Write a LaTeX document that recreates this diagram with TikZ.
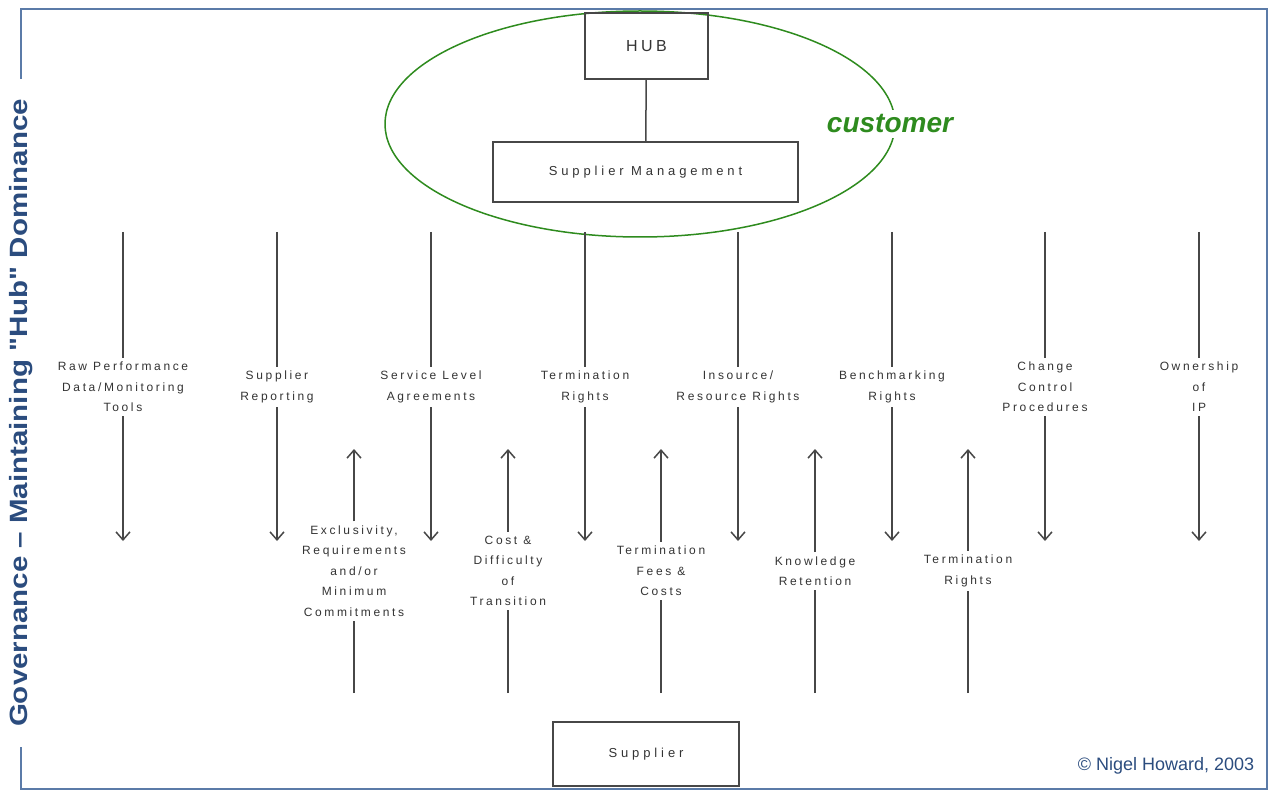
\documentclass[tikz,border=0pt]{standalone}
\usepackage{fontspec}
\setmainfont{Liberation Sans}
\newfontfamily\spaced[LetterSpace=22]{Liberation Sans}
\newfontfamily\widespaced[LetterSpace=30]{Liberation Sans}
\newfontfamily\titlefont[FakeStretch=1.18]{Liberation Sans}
\usepackage{xcolor}
\usetikzlibrary{shapes}
\usetikzlibrary{arrows.meta}
\usetikzlibrary{positioning}
\definecolor{framecol}{HTML}{5B7BA8}
\definecolor{titlecol}{HTML}{2B4C7E}
\definecolor{custgreen}{HTML}{2E8B1E}
\definecolor{inkgray}{HTML}{333333}
\definecolor{linegray}{HTML}{474747}
\tikzset{
	frame/.style={draw=framecol,line width=2.5pt},
	box node/.style={draw=linegray,line width=1.8pt,text=inkgray},
	lab/.style={font=\spaced\fontsize{12}{20.5}\selectfont,align=center,text=inkgray,inner xsep=2pt,inner ysep=4pt},
	flow/.style={draw=linegray,line width=1.5pt}
}

\begin{document}
\begin{tikzpicture}[x=1pt,y=-1pt,>={Straight Barb[length=8pt,width=14pt]}]
	\useasboundingbox (0,0) rectangle (1279,794);
	% frame and side title
	\node [rotate=90,text=titlecol,font=\titlefont\bfseries\fontsize{25}{30}\selectfont,inner xsep=20pt] (gov) at (21,413) {Governance – Maintaining "Hub" Dominance};
	\draw [frame] (gov.east) -- (21,9) -- (1267,9) -- (1267,789) -- (21,789) -- (gov.west);
	% customer side
	\node [ellipse,draw=custgreen,line width=1.5pt,minimum width=510pt,minimum height=226pt] (cust) at (640,124) {};
	\node [box node,minimum width=123pt,minimum height=66pt,font=\spaced\fontsize{16}{18}\selectfont] (hub) at (646.5,46) {HUB};
	\node [box node,minimum width=305pt,minimum height=60pt,font=\widespaced\fontsize{13}{15}\selectfont] (mgmt) at (645.5,172) {Supplier Management};
	\draw [flow] (hub) -- (mgmt);
	\node [fill=white,text=custgreen,font=\bfseries\itshape\fontsize{28}{30}\selectfont,inner xsep=1pt,inner ysep=5pt] (custlab) at (890,124) {customer};
	% supplier side
	\node [box node,minimum width=186pt,minimum height=64pt,font=\widespaced\fontsize{13}{15}\selectfont] (supp) at (646,754) {Supplier};
	% hub controls (downwards)
	\foreach \x/\txt [count=\i] in {123/{Raw Performance\\Data/Monitoring\\Tools},
		277/{Supplier\\Reporting},
		431/{Service Level\\Agreements},
		585/{Termination\\Rights},
		738/{Insource/\\Resource Rights},
		892/{Benchmarking\\Rights},
		1045/{Change\\Control\\Procedures},
		1199/{Ownership\\of\\IP}}{
		\coordinate (dtop\i) at (\x,232);
		\coordinate (dend\i) at (\x,541);
		\node [lab] (dlab\i) at (\x,387) {\txt};
		\draw [flow] (dtop\i) -- (dlab\i);
		\draw [flow,->] (dlab\i) -- (dend\i);
	}
	% supplier leverage (upwards)
	\foreach \x/\txt [count=\i] in {354/{Exclusivity,\\Requirements\\and/or\\Minimum\\Commitments},
		508/{Cost \&\\Difficulty\\of\\Transition},
		661/{Termination\\Fees \&\\Costs},
		815/{Knowledge\\Retention},
		968/{Termination\\Rights}}{
		\coordinate (ubot\i) at (\x,693);
		\coordinate (uend\i) at (\x,449);
		\node [lab] (ulab\i) at (\x,571) {\txt};
		\draw [flow] (ubot\i) -- (ulab\i);
		\draw [flow,->] (ulab\i) -- (uend\i);
	}
	\node [text=titlecol,font=\fontsize{18}{20}\selectfont] (copy) at (1166,766) {© Nigel Howard, 2003};
\end{tikzpicture}
\end{document}
